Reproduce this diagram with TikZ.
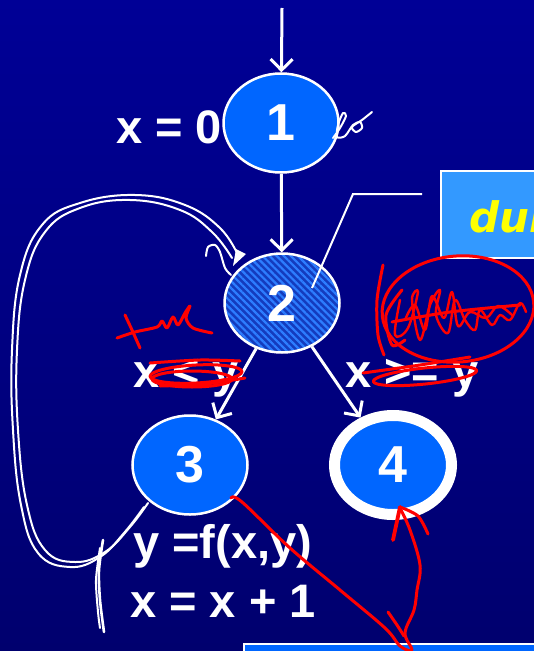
\documentclass[tikz,border=0pt]{standalone}
\usepackage{fontspec}
\setmainfont{Liberation Sans}
\newfontfamily\durfont{DejaVu Sans}
\usetikzlibrary{shapes.geometric,arrows.meta,patterns.meta}
\definecolor{nodeblue}{RGB}{0,102,255}
\definecolor{boxlight}{RGB}{51,153,255}
\definecolor{stripeA}{RGB}{20,60,190}
\definecolor{stripeB}{RGB}{45,125,255}
\definecolor{bgtop}{RGB}{0,0,150}
\definecolor{bgbot}{RGB}{0,0,110}
\definecolor{durtext}{RGB}{255,255,0}
\begin{document}
\begin{tikzpicture}[x=1bp,y=-1bp,
  numnode/.style={ellipse, draw=white, line width=2.5bp, fill=nodeblue,
    minimum width=115bp, minimum height=99bp, inner sep=0pt, text=white,
    font=\fontsize{52bp}{60bp}\selectfont\bfseries},
  lbl/.style={text=white, inner sep=0pt, font=\fontsize{47bp}{56bp}\selectfont\bfseries},
  conn/.style={draw=white, line width=3bp, -{Straight Barb[length=11bp,width=22bp,line width=3bp]}},
  wscrib/.style={draw=white, line width=2bp, line cap=round, line join=round},
  rscrib/.style={draw=red, line width=3bp, line cap=round, line join=round},
  boxstyle/.style={draw=white, line width=1.5bp, anchor=north west, inner sep=0pt}
]
\useasboundingbox (0,0) rectangle (534,651);
\clip (0,0) rectangle (534,651);
\shade[top color=bgtop, bottom color=bgbot] (0,0) rectangle (534,651);

% boxes (partly outside)
\node[boxstyle, fill=boxlight, minimum width=200bp, minimum height=87bp] (durbox) at (440,170) {};
\node[anchor=base west, inner sep=0pt, text=durtext, font=\durfont\fontsize{42bp}{50bp}\selectfont\bfseries\itshape] (durtxt) at (469,232) {dur};
\node[boxstyle, fill=nodeblue, minimum width=320bp, minimum height=60bp] (botbox) at (243,643) {};

% nodes
\node[numnode] (n1) at (281,123) {1};
\node[numnode, preaction={fill=stripeA}, pattern={Lines[angle=-45,distance=5bp,line width=2.2bp]}, pattern color=stripeB] (n2) at (282,303) {2};
\node[numnode] (n3) at (190,465) {3};
\node[numnode, line width=11bp, minimum width=117bp, minimum height=99bp] (n4) at (393,465) {4};

% connectors
\coordinate (top) at (282,8);
\draw[conn] (top) -- (n1);
\draw[conn] (n1) -- (n2);
\draw[conn] (n2) -- (n3);
\draw[conn] (n2) -- (n4);

% callout
\coordinate (c1) at (312,288);
\coordinate (c2) at (353,194);
\coordinate (c3) at (422,194);
\draw[white, line width=2bp] (c1) -- (c2) -- (c3);

% labels
\node[lbl, anchor=base west] (l0) at (116,143) {x = 0};
\node[lbl, anchor=base west] (llt) at (133,387) {x < y};
\node[lbl, anchor=base west] (lge) at (345,387) {x >= y};
\node[lbl, anchor=base west] (lf) at (133,558) {y =f(x,y)};
\node[lbl, anchor=base west] (linc) at (130,617) {x = x + 1};

% white hand-drawn marks
\draw[wscrib] plot[smooth, tension=0.7] coordinates {(148,503) (130,527) (105,552) (75,562) (45,550) (27,505) (18,430) (17,350) (25,280) (45,232) (80,208) (130,200) (180,210) (212,232) (232,258)};
\draw[wscrib] plot[smooth, tension=0.7] coordinates {(144,507) (124,533) (100,557) (70,567) (38,553) (21,505) (13,430) (12,350) (20,275) (42,225) (80,203) (135,195) (185,205) (220,228) (238,255)};
\fill[white] (233,266) -- (236,249) -- (246,254) -- cycle;
\draw[wscrib] plot[smooth] coordinates {(206,256) (208,247) (215,245) (220,252) (225,268) (231,275)};
\draw[wscrib, line width=2.6bp] plot[smooth] coordinates {(103,540) (99,570) (100,600) (104,632)};
\draw[wscrib] plot[smooth] coordinates {(100,548) (96,580) (98,612) (100,628)};
\draw[wscrib] plot[smooth, tension=0.5] coordinates {(333,138) (340,128) (346,116) (343,113) (338,125) (337,137) (345,136) (353,125) (360,122) (362,128) (356,132) (352,127) (362,120) (372,112)};

% red hand-drawn marks
\draw[rscrib] plot[smooth] coordinates {(125,315) (132,330) (140,348)};
\draw[rscrib] plot[smooth, tension=0.5] coordinates {(117,338) (135,332) (157,327) (162,321) (167,328) (173,317) (178,325) (185,313) (190,306) (186,318) (193,328) (212,333)};
\draw[rscrib] (196,374) ellipse [x radius=46, y radius=9, rotate=3];
\draw[rscrib] (192,379) ellipse [x radius=40, y radius=8];
\draw[rscrib] plot[smooth] coordinates {(150,363) (200,360) (240,361)};
\draw[rscrib] plot[smooth] coordinates {(160,386) (205,384) (245,378)};
\draw[rscrib] plot[smooth] coordinates {(363,373) (420,365) (470,357)};
\draw[rscrib] (425,376) ellipse [x radius=52, y radius=8, rotate=6];
\draw[rscrib] (458,309) ellipse [x radius=76, y radius=53, rotate=5];
\draw[rscrib] plot[smooth] coordinates {(383,265) (377,300) (378,335) (384,355)};
\draw[rscrib, line width=2.4bp] plot[smooth, tension=0.6] coordinates {(400,300) (395,335) (408,328) (418,292) (412,300) (420,340) (430,305) (440,290) (436,315) (448,333) (455,300) (465,320) (475,330) (480,310) (492,325) (500,315) (510,320) (520,303) (526,312)};
\draw[rscrib, line width=2.4bp] plot[smooth, tension=0.6] coordinates {(405,320) (415,305) (425,330) (432,296) (444,318) (452,292) (458,326) (470,312) (486,318) (498,306) (512,315)};
\draw[rscrib] plot[smooth] coordinates {(392,322) (450,312) (520,305)};
\draw[rscrib] plot[smooth] coordinates {(402,290) (386,315) (392,345) (405,340)};
\draw[rscrib] plot[smooth, tension=0.6] coordinates {(231,498) (242,502) (290,548) (340,590) (385,628) (400,646) (412,650) (405,633) (414,610) (417,590) (420,565) (410,530) (400,508)};
\draw[rscrib, line width=3.8bp] (393,540) -- (400,507);
\draw[rscrib] plot[smooth] coordinates {(400,507) (418,516) (428,534)};
\draw[rscrib] plot[smooth] coordinates {(388,612) (397,625) (404,636)};
\end{tikzpicture}
\end{document}
